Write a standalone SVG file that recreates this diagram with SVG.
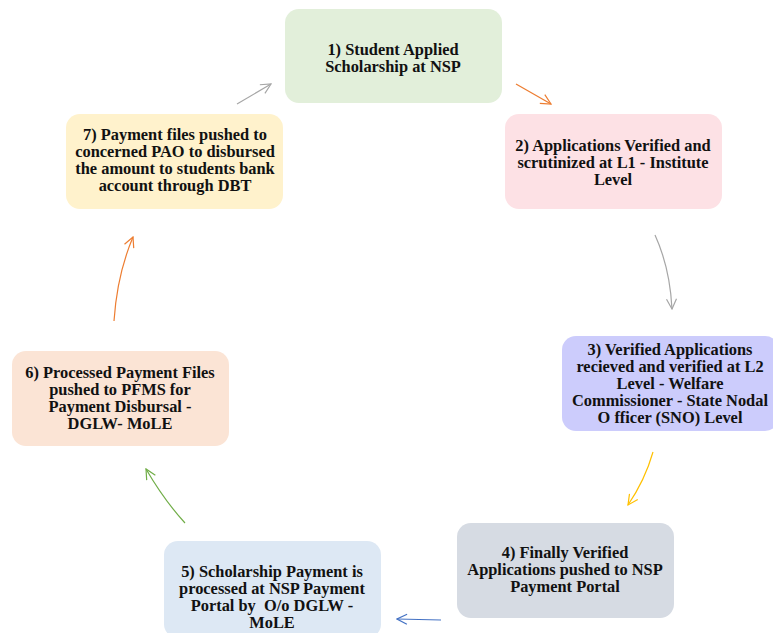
<svg xmlns="http://www.w3.org/2000/svg" width="773" height="633" viewBox="0 0 773 633">
<defs>
<style>
.box{stroke:none}
.t{font-family:"Liberation Serif","Times New Roman",serif;font-weight:bold;font-size:16.4px;fill:#111;text-anchor:middle;white-space:pre}
.c{fill:none;stroke-width:1.2}
</style>
<marker id="mg" viewBox="0 0 12 12" refX="11" refY="6" markerWidth="12" markerHeight="12" markerUnits="userSpaceOnUse" orient="auto"><path d="M1,1 L11,6 L1,11" fill="none" stroke="#a6a6a6" stroke-width="1.2"/></marker>
<marker id="mo" viewBox="0 0 12 12" refX="11" refY="6" markerWidth="12" markerHeight="12" markerUnits="userSpaceOnUse" orient="auto"><path d="M1,1 L11,6 L1,11" fill="none" stroke="#ed7d31" stroke-width="1.2"/></marker>
<marker id="my" viewBox="0 0 12 12" refX="11" refY="6" markerWidth="12" markerHeight="12" markerUnits="userSpaceOnUse" orient="auto"><path d="M1,1 L11,6 L1,11" fill="none" stroke="#ffc000" stroke-width="1.2"/></marker>
<marker id="mb" viewBox="0 0 12 12" refX="11" refY="6" markerWidth="12" markerHeight="12" markerUnits="userSpaceOnUse" orient="auto"><path d="M1,1 L11,6 L1,11" fill="none" stroke="#4472c4" stroke-width="1.2"/></marker>
<marker id="mgr" viewBox="0 0 12 12" refX="11" refY="6" markerWidth="12" markerHeight="12" markerUnits="userSpaceOnUse" orient="auto"><path d="M1,1 L11,6 L1,11" fill="none" stroke="#70ad47" stroke-width="1.2"/></marker>
</defs>
<rect width="773" height="633" fill="#fff"/>
<g id="connectors">
<path class="c" stroke="#ed7d31" d="M516,84 L551,104" marker-end="url(#mo)"/>
<path class="c" stroke="#a6a6a6" d="M655,235 Q670,268 672,309" marker-end="url(#mg)"/>
<path class="c" stroke="#ffc000" d="M653,452 Q645,480 628,505" marker-end="url(#my)"/>
<path class="c" stroke="#4472c4" d="M441,620 L397,619" marker-end="url(#mb)"/>
<path class="c" stroke="#70ad47" d="M185,523 Q164,500 146,469" marker-end="url(#mgr)"/>
<path class="c" stroke="#ed7d31" d="M114,321 Q117,275 133,237" marker-end="url(#mo)"/>
<path class="c" stroke="#a6a6a6" d="M237,104 L271,84" marker-end="url(#mg)"/>
</g>
<g id="node1">
<rect class="box" x="285" y="9" width="217" height="94" rx="14" fill="#e2efda"/>
<text class="t" x="393" y="55">1) Student Applied</text>
<text class="t" x="393" y="72">Scholarship at NSP</text>
</g>
<g id="node2">
<rect class="box" x="505" y="114" width="217" height="95" rx="14" fill="#fde1e5"/>
<text class="t" x="613" y="151">2) Applications Verified and</text>
<text class="t" x="613" y="168">scrutinized at L1 - Institute</text>
<text class="t" x="613" y="185">Level</text>
</g>
<g id="node3">
<rect class="box" x="562" y="336" width="217" height="95" rx="14" fill="#ccccfc"/>
<text class="t" x="670" y="355">3) Verified Applications</text>
<text class="t" x="670" y="372">recieved and verified at L2</text>
<text class="t" x="670" y="389">Level - Welfare</text>
<text class="t" x="670" y="406">Commissioner - State Nodal</text>
<text class="t" x="670" y="423">O fficer (SNO) Level</text>
</g>
<g id="node4">
<rect class="box" x="457" y="523" width="217" height="95" rx="14" fill="#d6dbe3"/>
<text class="t" x="565" y="558">4) Finally Verified</text>
<text class="t" x="565" y="575">Applications pushed to NSP</text>
<text class="t" x="565" y="592">Payment Portal</text>
</g>
<g id="node5">
<rect class="box" x="164" y="541" width="217" height="97" rx="14" fill="#dde8f4"/>
<text class="t" x="272" y="577">5) Scholarship Payment is</text>
<text class="t" x="272" y="594">processed at NSP Payment</text>
<text class="t" x="272" y="611" xml:space="preserve">Portal by  O/o DGLW -</text>
<text class="t" x="272" y="628">MoLE</text>
</g>
<g id="node6">
<rect class="box" x="12" y="351" width="217" height="95" rx="14" fill="#fbe4d5"/>
<text class="t" x="120" y="378">6) Processed Payment Files</text>
<text class="t" x="120" y="395">pushed to PFMS for</text>
<text class="t" x="120" y="412">Payment Disbursal -</text>
<text class="t" x="120" y="429">DGLW- MoLE</text>
</g>
<g id="node7">
<rect class="box" x="66" y="114" width="217" height="95" rx="14" fill="#fff2cc"/>
<text class="t" x="175" y="140">7) Payment files pushed to</text>
<text class="t" x="175" y="157">concerned PAO to disbursed</text>
<text class="t" x="175" y="174">the amount to students bank</text>
<text class="t" x="175" y="191">account through DBT</text>
</g>
</svg>
